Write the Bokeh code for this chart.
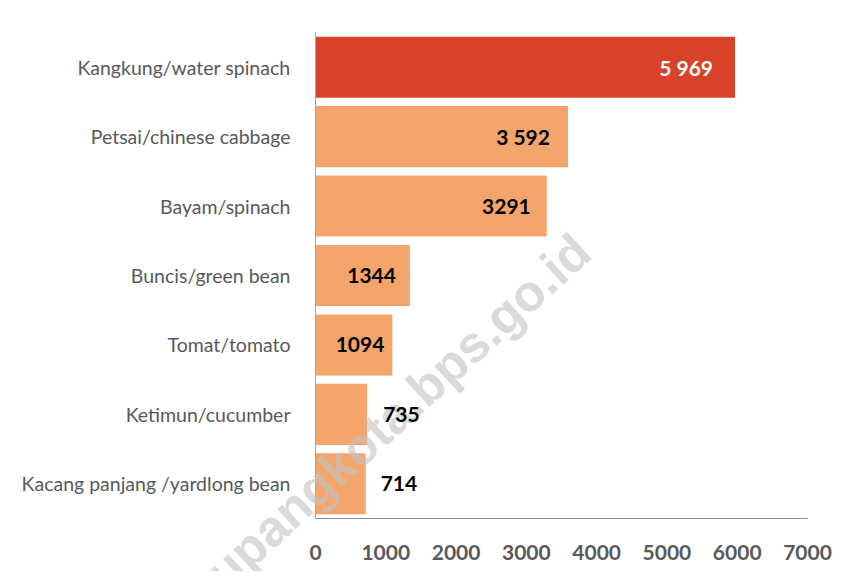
from bokeh.plotting import figure
from bokeh.models import (ColumnDataSource, Range1d, FixedTicker, LinearAxis,
                          LabelSet, Label)
from bokeh.core.properties import value
from bokeh.embed import file_html
from bokeh.resources import INLINE

categories = ["Kangkung/water spinach", "Petsai/chinese cabbage", "Bayam/spinach",
              "Buncis/green bean", "Tomat/tomato", "Ketimun/cucumber",
              "Kacang panjang /yardlong bean"]
values = [5969, 3592, 3291, 1344, 1094, 735, 714]
value_labels = ["5 969", "3 592", "3291", "1344", "1094", "735", "714"]
x_ticks = [0, 1000, 2000, 3000, 4000, 5000, 6000, 7000]
watermark = "kupangkota.bps.go.id"

# ---- styles / layout ----
RED = "#D8432A"
ORANGE = "#F4A56C"
FONT = "Lato"
W, H = 846, 571
FRAME_L, FRAME_R, FRAME_T, FRAME_B = 315, 807, 32, 518
label_offsets = [-22, -18, -16, -14, -8, 16, 15]

n = len(categories)
ypos = [n - 1 - i for i in range(n)]          # first category on top
colors = [RED] + [ORANGE] * (n - 1)
inside = [v > 1000 for v in values]
label_colors = ["white"] + ["black"] * (n - 1)

xmin, xmax = x_ticks[0], x_ticks[-1]
px_x = (FRAME_R - FRAME_L) / (xmax - xmin)
px_y = (FRAME_B - FRAME_T) / n
x_range = Range1d(xmin - FRAME_L / px_x, xmax + (W - FRAME_R) / px_x)
y_range = Range1d(-0.5 - (H - FRAME_B) / px_y, n - 0.5 + FRAME_T / px_y)


def subset(flag):
    idx = [i for i, f in enumerate(inside) if f == flag]
    return ColumnDataSource(dict(y=[ypos[i] for i in idx],
                                 val=[values[i] for i in idx],
                                 lab=[value_labels[i] for i in idx],
                                 lcol=[label_colors[i] for i in idx],
                                 off=[label_offsets[i] for i in idx]))


src = ColumnDataSource(dict(y=ypos, val=values, color=colors))

p = figure(width=W, height=H, output_backend="svg", toolbar_location=None,
           x_range=x_range, y_range=y_range, x_axis_type=None, y_axis_type=None,
           min_border=0)
p.outline_line_color = None
p.background_fill_color = "white"
p.border_fill_color = "white"
p.grid.visible = False

p.hbar(y="y", right="val", left=0, height=0.88, fill_color="color",
       line_color=None, source=src)

xaxis = LinearAxis(fixed_location=-0.5, bounds=(xmin, xmax),
                   ticker=FixedTicker(ticks=x_ticks))
xaxis.major_tick_line_color = None
xaxis.minor_tick_line_color = None
xaxis.axis_line_color = "#8c8c8c"
xaxis.major_label_standoff = 20
xaxis.major_label_text_font = FONT
xaxis.major_label_text_font_style = "bold"
xaxis.major_label_text_font_size = "21px"
xaxis.major_label_text_color = "#595959"
p.add_layout(xaxis, "below")

yaxis = LinearAxis(fixed_location=xmin, bounds=(-0.5, n - 0.5),
                   ticker=FixedTicker(ticks=ypos),
                   major_label_overrides={y: c for y, c in zip(ypos, categories)})
yaxis.major_tick_line_color = None
yaxis.minor_tick_line_color = None
yaxis.axis_line_color = "#a6a6a6"
yaxis.major_label_standoff = 19
yaxis.major_label_text_font = FONT
yaxis.major_label_text_font_size = "19.5px"
yaxis.major_label_text_color = "#595959"
p.add_layout(yaxis, "left")

# watermark (screen units, y measured from the bottom)
wm = Label(x=582, y=H - 243, x_units="screen", y_units="screen", text=watermark,
           angle=0.74, text_align="right", text_baseline="alphabetic",
           text_font="Liberation Sans", text_font_style="bold",
           text_font_size="51px", text_color="#c4c4c4", text_alpha=0.62)
p.add_layout(wm)

p.add_layout(LabelSet(x="val", y="y", text="lab", source=subset(True),
                      text_align="right", text_baseline="middle", x_offset="off",
                      text_color="lcol", text_font=value(FONT),
                      text_font_style="bold", text_font_size="21px"))
p.add_layout(LabelSet(x="val", y="y", text="lab", source=subset(False),
                      text_align="left", text_baseline="middle", x_offset="off",
                      text_color="lcol", text_font=value(FONT),
                      text_font_style="bold", text_font_size="21px"))

open("out.html", "w").write(file_html(p, INLINE))
